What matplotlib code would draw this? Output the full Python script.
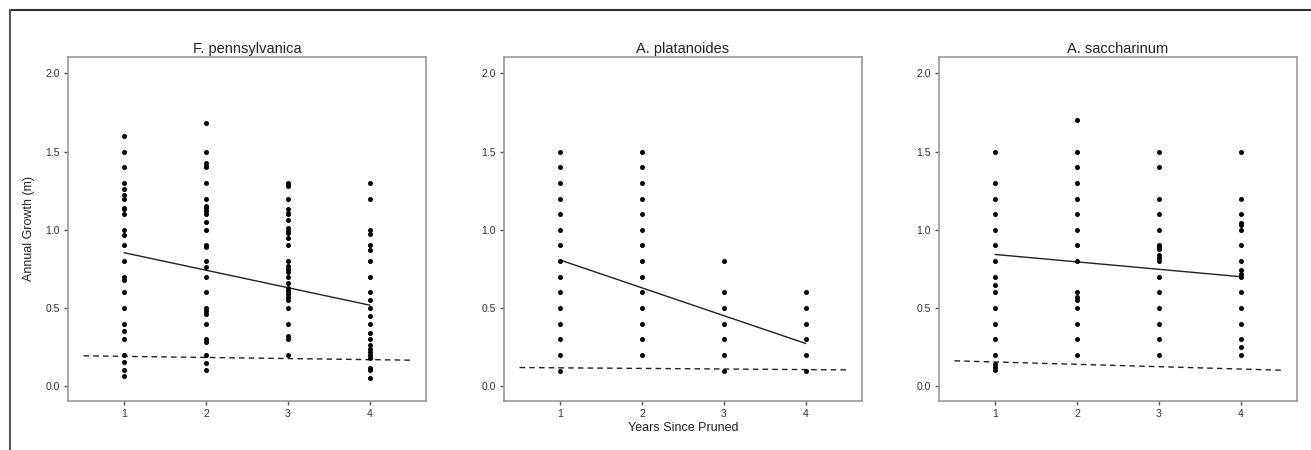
"""
Annual growth vs years since pruning, three species
"""

import matplotlib
matplotlib.use('Agg')
import matplotlib.pyplot as plt
from matplotlib.lines import Line2D

plt.rcParams['font.family'] = ['Liberation Sans', 'DejaVu Sans']

# data
species = ['F. pennsylvanica', 'A. platanoides', 'A. saccharinum']
years = [1, 2, 3, 4]

fp_y1 = [1.60, 1.50, 1.40, 1.30, 1.26, 1.22, 1.20, 1.14, 1.13, 1.10, 1.00, 0.965, 0.90,
         0.80, 0.70, 0.68, 0.60, 0.50, 0.40, 0.35, 0.30, 0.20, 0.155, 0.105, 0.065]
fp_y2 = [1.68, 1.50, 1.43, 1.41, 1.40, 1.30, 1.20, 1.15, 1.14, 1.12, 1.10, 1.05, 1.00,
         0.90, 0.89, 0.80, 0.76, 0.70, 0.60, 0.50, 0.48, 0.46, 0.40, 0.30, 0.28,
         0.20, 0.15, 0.105]
fp_y3 = [1.30, 1.29, 1.28, 1.20, 1.13, 1.11, 1.10, 1.06, 1.01, 0.99, 0.98, 0.95, 0.90,
         0.80, 0.77, 0.75, 0.73, 0.70, 0.66, 0.63, 0.61, 0.59, 0.57, 0.55, 0.50,
         0.40, 0.32, 0.30, 0.20]
fp_y4 = [1.30, 1.20, 1.00, 0.97, 0.90, 0.87, 0.80, 0.70, 0.60, 0.55, 0.50, 0.45, 0.40,
         0.34, 0.30, 0.26, 0.24, 0.22, 0.20, 0.18, 0.115, 0.105, 0.055]

ap_y1 = [1.5, 1.4, 1.3, 1.2, 1.1, 1.0, 0.9, 0.8, 0.7, 0.6, 0.5, 0.4, 0.3, 0.2, 0.1]
ap_y2 = [1.5, 1.4, 1.3, 1.2, 1.1, 1.0, 0.9, 0.8, 0.7, 0.6, 0.5, 0.4, 0.3, 0.2]
ap_y3 = [0.8, 0.6, 0.5, 0.4, 0.3, 0.2, 0.1]
ap_y4 = [0.6, 0.5, 0.4, 0.3, 0.2, 0.1]

as_y1 = [1.5, 1.3, 1.2, 1.1, 1.0, 0.9, 0.8, 0.7, 0.645, 0.605, 0.5, 0.4, 0.3, 0.2,
         0.14, 0.12, 0.105]
as_y2 = [1.7, 1.5, 1.4, 1.3, 1.2, 1.1, 1.0, 0.9, 0.8, 0.6, 0.57, 0.55, 0.5, 0.4, 0.3, 0.2]
as_y3 = [1.5, 1.4, 1.2, 1.1, 1.0, 0.9, 0.89, 0.875, 0.84, 0.82, 0.8, 0.7, 0.6, 0.5,
         0.4, 0.3, 0.2]
as_y4 = [1.5, 1.2, 1.1, 1.045, 1.03, 1.0, 0.9, 0.8, 0.74, 0.72, 0.7, 0.6, 0.5, 0.4,
         0.3, 0.25, 0.2]

points = [[fp_y1, fp_y2, fp_y3, fp_y4],
          [ap_y1, ap_y2, ap_y3, ap_y4],
          [as_y1, as_y2, as_y3, as_y4]]

# fitted line (x = 1..4) and dashed reference line (x = 0.5..4.5)
fit_x = [1, 4]
fit_y = [[0.853, 0.518], [0.806, 0.273], [0.842, 0.700]]
ref_x = [0.5, 4.5]
ref_y = [[0.194, 0.166], [0.119, 0.104], [0.162, 0.102]]

W, H = 1311, 450
fig = plt.figure(figsize=(W / 100, H / 100), dpi=100)

lefts = [68, 504, 939]
ax_w = 358
ax_top, ax_bot = 57, 401

for i, name in enumerate(species):
    ax = fig.add_axes([lefts[i] / W, 1 - ax_bot / H, ax_w / W, (ax_bot - ax_top) / H])
    for x, ys in zip(years, points[i]):
        ax.scatter([x] * len(ys), ys, s=13, color='black', linewidths=0, zorder=3)
    ax.plot(fit_x, fit_y[i], color='#222222', lw=1.0, zorder=2)
    ax.plot(ref_x, ref_y[i], color='#222222', lw=1.0, linestyle=(0, (4, 3)), zorder=2)

    ax.set_xlim(0.31, 4.69)
    ax.set_ylim(-0.095, 2.105)
    ax.set_xticks(years)
    ax.set_yticks([0.0, 0.5, 1.0, 1.5, 2.0])
    ax.set_yticklabels(['0.0', '0.5', '1.0', '1.5', '2.0'])
    ax.tick_params(direction='out', length=3, width=1, color='#555555',
                   labelsize=7.5, labelcolor='#333333', pad=3)
    for sp in ax.spines.values():
        sp.set_color('#999999')
        sp.set_linewidth(1.2)
    ax.set_title(name, fontsize=10.5, pad=3, color='#222222')

    if i == 0:
        ax.set_ylabel('Annual Growth (m)', fontsize=9, color='#222222', labelpad=7)
    if i == 1:
        ax.set_xlabel('Years Since Pruned', fontsize=9, color='#222222', labelpad=2)

# outer frame: top and left edges only
fig.add_artist(Line2D([10 / W, 1.0], [1 - 10 / H, 1 - 10 / H],
                      transform=fig.transFigure, color='#333333', lw=1.5))
fig.add_artist(Line2D([10 / W, 10 / W], [0.0, 1 - 10 / H],
                      transform=fig.transFigure, color='#555555', lw=1.5))

plt.savefig('out.png', dpi=100, facecolor='white')
plt.close()
